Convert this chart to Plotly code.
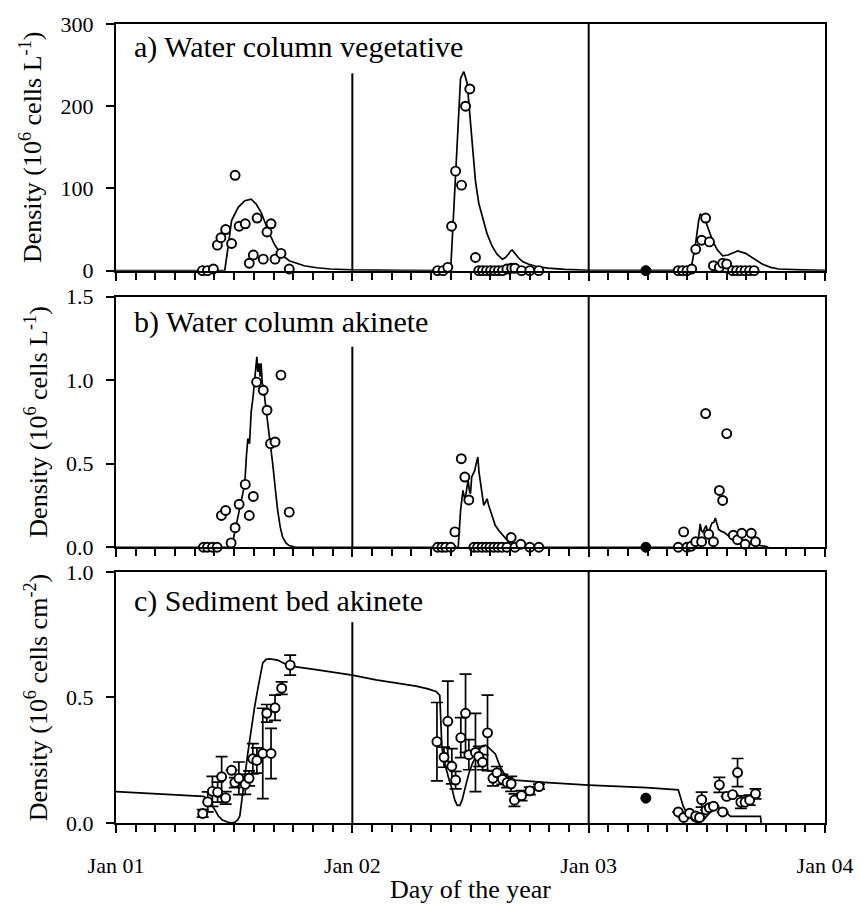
import plotly.graph_objects as go

# ---------------- data (x in years since Jan 01) ----------------
tick_vals = [0, 1, 2, 3]
tick_text = ["Jan 01", "Jan 02", "Jan 03", "Jan 04"]

# Panel a: water column vegetative (10^6 cells/L)
veg_obs_x = [0.366, 0.387, 0.412, 0.429, 0.444, 0.464, 0.489, 0.504, 0.521, 0.547, 0.564, 0.581,
             0.597, 0.623, 0.639, 0.656, 0.673, 0.698, 0.733,
             1.361, 1.384, 1.404, 1.420, 1.437, 1.462, 1.479, 1.497, 1.521, 1.535, 1.551, 1.568,
             1.585, 1.602, 1.618, 1.635, 1.654, 1.674, 1.688, 1.716, 1.751, 1.789,
             2.379, 2.397, 2.416, 2.436, 2.453, 2.478, 2.495, 2.511, 2.528, 2.553, 2.567, 2.584,
             2.609, 2.626, 2.644, 2.662, 2.681, 2.700]
veg_obs_y = [0, 0, 2, 31, 40, 50, 33, 116, 54, 57, 9, 19, 64, 14, 47, 57, 14, 21, 2,
             0, 0, 4, 54, 121, 104, 200, 221, 16, 0, 0, 0, 0, 0, 0, 0, 2, 3, 3, 0, 0, 0,
             0, 0, 0, 2, 26, 37, 64, 35, 6, 4, 9, 8, 0, 0, 0, 0, 0, 0]
veg_mod_x = [0.0, 0.46, 0.475, 0.489, 0.517, 0.545, 0.572, 0.593, 0.614, 0.642, 0.670, 0.698,
             0.733, 0.796, 0.85, 0.907, 1.0, 1.1, 1.2, 1.416, 1.437, 1.458, 1.472, 1.486, 1.5,
             1.521, 1.535, 1.549, 1.57, 1.591, 1.612, 1.635, 1.648, 1.66, 1.67, 1.677, 1.69,
             1.702, 1.72, 1.744, 1.78, 1.828, 1.9, 2.0, 2.2, 2.42, 2.435, 2.453, 2.465, 2.472,
             2.49, 2.505, 2.525, 2.545, 2.567, 2.59, 2.61, 2.63, 2.664, 2.7, 2.734, 2.77, 2.804,
             2.9, 3.0]
veg_mod_y = [0, 0, 30, 61, 77, 85, 87, 81, 71, 50, 32, 20, 12, 6, 3.5, 2, 1, 0.5, 0.3, 0.2,
             121, 234, 242, 228, 180, 109, 82, 66, 45, 30, 20, 14, 16, 20, 24, 25, 20, 16, 11,
             8, 5, 3, 1.5, 0.5, 0.3, 0.5, 5, 34, 60, 69, 64, 52, 36, 25, 18, 19, 22, 24, 21, 14,
             8, 4, 2, 1, 0.5]

# Panel b: water column akinete (10^6 cells/L)
wak_obs_x = [0.370, 0.387, 0.408, 0.428, 0.446, 0.464, 0.487, 0.504, 0.521, 0.547, 0.564, 0.581,
             0.595, 0.623, 0.639, 0.654, 0.673, 0.698, 0.733,
             1.361, 1.379, 1.395, 1.416, 1.434, 1.461, 1.476, 1.493, 1.514, 1.530, 1.549, 1.566,
             1.582, 1.599, 1.616, 1.633, 1.654, 1.672, 1.688, 1.713, 1.751, 1.789,
             2.379, 2.402, 2.416, 2.434, 2.453, 2.478, 2.495, 2.508, 2.528, 2.553, 2.567, 2.584,
             2.612, 2.630, 2.648, 2.662, 2.688, 2.706]
wak_obs_y = [0, 0, 0, 0, 0.19, 0.22, 0.026, 0.117, 0.257, 0.376, 0.19, 0.304, 0.988, 0.939,
             0.82, 0.62, 0.63, 1.03, 0.21,
             0, 0, 0, 0, 0.092, 0.53, 0.42, 0.283, 0, 0, 0, 0, 0, 0, 0, 0, 0, 0.058, 0, 0.018,
             0, 0,
             0, 0.092, 0, 0.006, 0.033, 0.033, 0.80, 0.078, 0.033, 0.34, 0.28, 0.68, 0.072,
             0.045, 0.084, 0.018, 0.084, 0.033]
wak_mod_x = [0.0, 0.489, 0.505, 0.524, 0.545, 0.552, 0.558, 0.565, 0.572, 0.58, 0.586, 0.592,
             0.596, 0.6, 0.605, 0.61, 0.614, 0.619, 0.624, 0.632, 0.642, 0.652, 0.663, 0.674,
             0.684, 0.695, 0.705, 0.72, 0.733, 0.76, 1.448, 1.458, 1.468, 1.474, 1.479, 1.485,
             1.49, 1.495, 1.5, 1.505, 1.51, 1.518, 1.524, 1.531, 1.536, 1.542, 1.549, 1.556,
             1.563, 1.57, 1.577, 1.584, 1.595, 1.605, 1.62, 1.633, 1.65, 1.667, 1.69, 1.716,
             2.44, 2.455, 2.462, 2.467, 2.472, 2.477, 2.483, 2.49, 2.497, 2.502, 2.508, 2.515,
             2.522, 2.53, 2.536, 2.543, 2.55, 2.562, 2.574, 2.59, 2.609, 2.635, 2.664, 2.7,
             2.748, 2.76]
wak_mod_y = [0, 0, 0.107, 0.244, 0.38, 0.55, 0.65, 0.62, 0.81, 0.9, 1.0, 1.08, 1.14, 1.05,
             1.10, 1.02, 1.10, 0.98, 0.96, 0.86, 0.75, 0.62, 0.50, 0.35, 0.22, 0.12, 0.06,
             0.025, 0.01, 0, 0, 0.22, 0.34, 0.30, 0.30, 0.36, 0.40, 0.34, 0.32, 0.42, 0.44,
             0.46, 0.50, 0.54, 0.45, 0.38, 0.30, 0.25, 0.27, 0.29, 0.25, 0.22, 0.17, 0.13,
             0.10, 0.078, 0.05, 0.03, 0.012, 0, 0, 0.02, 0.03, 0.08, 0.14, 0.10, 0.09, 0.11,
             0.13, 0.10, 0.07, 0.12, 0.146, 0.15, 0.175, 0.14, 0.107, 0.095, 0.088, 0.07,
             0.05, 0.04, 0.03, 0.015, 0.006, 0]

# Panel c: sediment bed akinete (10^6 cells/cm2)
sed_obs_x = [0.367, 0.388, 0.408, 0.430, 0.447, 0.464, 0.489, 0.503, 0.520, 0.547, 0.563, 0.579,
             0.596, 0.621, 0.638, 0.656, 0.673, 0.701, 0.737,
             1.358, 1.388, 1.404, 1.421, 1.437, 1.459, 1.479, 1.493, 1.521, 1.535, 1.551, 1.572,
             1.595, 1.612, 1.635, 1.655, 1.672, 1.686, 1.716, 1.751, 1.790,
             2.379, 2.402, 2.427, 2.453, 2.469, 2.478, 2.497, 2.511, 2.528, 2.553, 2.567, 2.584,
             2.609, 2.630, 2.644, 2.662, 2.681, 2.706]
sed_obs_y = [0.038, 0.084, 0.126, 0.123, 0.184, 0.100, 0.210, 0.161, 0.178, 0.154, 0.178, 0.256,
             0.249, 0.277, 0.437, 0.277, 0.459, 0.537, 0.629,
             0.324, 0.262, 0.405, 0.226, 0.171, 0.340, 0.437, 0.272, 0.281, 0.265, 0.242, 0.359,
             0.178, 0.200, 0.174, 0.161, 0.156, 0.091, 0.109, 0.128, 0.145,
             0.044, 0.022, 0.039, 0.028, 0.022, 0.093, 0.052, 0.061, 0.067, 0.152, 0.044, 0.106,
             0.113, 0.201, 0.083, 0.083, 0.091, 0.116]
sed_obs_err = [0.015, 0.04, 0.06, 0.04, 0.08, 0.025, 0.0, 0.02, 0.065, 0.04, 0.03, 0.06,
               0.05, 0.18, 0.035, 0.1, 0.05, 0.025, 0.04,
               0.156, 0.04, 0.16, 0.07, 0.035, 0.08, 0.156, 0.06, 0.156, 0.04, 0.03, 0.15,
               0.03, 0.025, 0.02, 0.02, 0.03, 0.025, 0.02, 0.015, 0.01,
               0.0, 0.0, 0.0, 0.0, 0.0, 0.03, 0.0, 0.0, 0.0, 0.03, 0.0, 0.0,
               0.0, 0.056, 0.025, 0.0, 0.02, 0.02]
sed_mod_x = [0.0, 0.37, 0.39, 0.405, 0.42, 0.433, 0.45, 0.475, 0.49, 0.503, 0.515, 0.524, 0.535,
             0.545, 0.558, 0.572, 0.586, 0.6, 0.61, 0.621, 0.635, 0.649, 0.665, 0.684, 0.71,
             0.74, 0.838, 1.0, 1.1, 1.2, 1.27, 1.32, 1.354, 1.37, 1.379, 1.387, 1.395, 1.41,
             1.423, 1.434, 1.444, 1.455, 1.465, 1.48, 1.493, 1.507, 1.521, 1.535, 1.549, 1.563,
             1.577, 1.59, 1.605, 1.615, 1.626, 1.64, 1.66, 1.688, 1.75, 1.828, 2.0, 2.246, 2.379,
             2.39, 2.40, 2.415, 2.428, 2.44, 2.455, 2.47, 2.483, 2.497, 2.511, 2.525, 2.539,
             2.55, 2.565, 2.581, 2.59, 2.60, 2.727, 2.73]
sed_mod_y = [0.125, 0.106, 0.095, 0.074, 0.05, 0.028, 0.012, 0.003, 0.001, 0.003, 0.012, 0.028,
             0.1, 0.184, 0.28, 0.379, 0.46, 0.534, 0.59, 0.638, 0.652, 0.654, 0.652, 0.649,
             0.636, 0.625, 0.612, 0.589, 0.57, 0.555, 0.545, 0.534, 0.524, 0.508, 0.30, 0.26,
             0.223, 0.17, 0.132, 0.09, 0.07, 0.07, 0.093, 0.15, 0.197, 0.235, 0.262, 0.29,
             0.307, 0.31, 0.30, 0.29, 0.275, 0.25, 0.223, 0.2, 0.184, 0.171, 0.166, 0.161,
             0.151, 0.141, 0.132, 0.1, 0.067, 0.04, 0.022, 0.01, 0.003, 0.003, 0.009, 0.025,
             0.042, 0.055, 0.065, 0.062, 0.055, 0.048, 0.035, 0.026, 0.026, 0.0]

# single filled observation (separate sample)
filled_x = [2.242]
veg_filled_y = [0]
wak_filled_y = [0]
sed_filled_y = [0.099]

panel_titles = ["a) Water column vegetative", "b) Water column akinete", "c) Sediment bed akinete"]
ytitles = ["Density (10<sup>6</sup> cells L<sup>-1</sup>)",
           "Density (10<sup>6</sup> cells L<sup>-1</sup>)",
           "Density (10<sup>6</sup> cells cm<sup>-2</sup>)"]

# ---------------- figure ----------------
FONT = "Liberation Serif, Times New Roman, serif"
fig = go.Figure()

panels = [
    ("x", "y", veg_mod_x, veg_mod_y, veg_obs_x, veg_obs_y, None, veg_filled_y),
    ("x2", "y2", wak_mod_x, wak_mod_y, wak_obs_x, wak_obs_y, None, wak_filled_y),
    ("x3", "y3", sed_mod_x, sed_mod_y, sed_obs_x, sed_obs_y, sed_obs_err, sed_filled_y),
]
for xa, ya, mx, my, ox, oy, oe, fy in panels:
    fig.add_trace(go.Scatter(x=mx, y=my, mode="lines", xaxis=xa, yaxis=ya,
                             line=dict(color="black", width=1.7), showlegend=False))
    fig.add_trace(go.Scatter(
        x=ox, y=oy, mode="markers", xaxis=xa, yaxis=ya, cliponaxis=False, showlegend=False,
        marker=dict(symbol="circle", size=9, color="white", line=dict(color="black", width=1.9)),
        error_y=(dict(type="data", array=oe, visible=True, color="black", thickness=1.7, width=6)
                 if oe is not None else None)))
    fig.add_trace(go.Scatter(
        x=filled_x, y=fy, mode="markers", xaxis=xa, yaxis=ya, cliponaxis=False, showlegend=False,
        marker=dict(symbol="circle", size=10, color="black", line=dict(color="black", width=1))))

domains = [[0.6913, 1.0], [0.3451, 0.6589], [0.0, 0.3142]]
yranges = [[0, 300], [0, 1.5], [0, 1.0]]
yticks = [[0, 100, 200, 300], [0, 0.5, 1.0, 1.5], [0, 0.5, 1.0]]
yfmt = ["d", ".1f", ".1f"]

layout = dict(
    width=865, height=911, margin=dict(l=116, r=32, t=16, b=77),
    paper_bgcolor="white", plot_bgcolor="white",
    font=dict(family=FONT, color="black", size=22),
    showlegend=False,
)
for i in range(3):
    sfx = "" if i == 0 else str(i + 1)
    layout["xaxis" + sfx] = dict(
        range=[0, 3], anchor="y" + sfx, domain=[0, 1],
        tickmode="array", tickvals=tick_vals, ticktext=tick_text,
        showticklabels=(i == 2), ticks="outside", ticklen=8, tickwidth=1.6, tickcolor="black",
        minor=dict(tickmode="linear", tick0=0, dtick=1 / 12, ticks="outside", ticklen=7,
                   tickwidth=1.6, tickcolor="black"),
        showline=True, linecolor="black", linewidth=2, mirror=True, showgrid=False, zeroline=False,
        tickfont=dict(family=FONT, size=22), ticklabelstandoff=14,
        title=(dict(text="Day of the year", font=dict(family=FONT, size=26), standoff=2)
               if i == 2 else None),
    )
    layout["yaxis" + sfx] = dict(
        range=yranges[i], domain=domains[i], anchor="x" + sfx,
        tickmode="array", tickvals=yticks[i], tickformat=yfmt[i],
        ticks="outside", ticklen=8, tickwidth=1.6, tickcolor="black",
        showline=True, linecolor="black", linewidth=2, mirror=True, showgrid=False, zeroline=False,
        tickfont=dict(family=FONT, size=22), ticklabelstandoff=8,
        title=dict(text=ytitles[i], font=dict(family=FONT, size=26), standoff=11),
    )
fig.update_layout(**layout)

# vertical year separators
for i in range(3):
    sfx = "" if i == 0 else str(i + 1)
    fig.add_shape(type="line", xref="x" + sfx, yref="y" + sfx + " domain", x0=1, x1=1, y0=0, y1=0.8,
                  line=dict(color="black", width=2))
    fig.add_shape(type="line", xref="x" + sfx, yref="y" + sfx + " domain", x0=2, x1=2, y0=0, y1=1,
                  line=dict(color="black", width=2))

title_y = [0.905, 0.9, 0.885]
for i in range(3):
    sfx = "" if i == 0 else str(i + 1)
    fig.add_annotation(text=panel_titles[i], xref="x" + sfx + " domain", yref="y" + sfx + " domain",
                       x=0.022, y=title_y[i], xanchor="left", yanchor="middle", showarrow=False,
                       font=dict(family=FONT, size=30, color="black"))

fig.write_html("out.html")
